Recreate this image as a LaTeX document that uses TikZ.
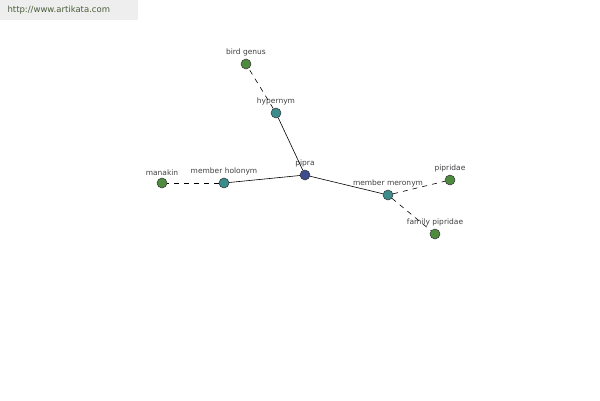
\documentclass[tikz,border=0pt]{standalone}
\usepackage{fontspec}
\setmainfont{DejaVu Sans}
\usetikzlibrary{positioning}

\definecolor{leafgreen}{HTML}{4E8B3E}
\definecolor{relteal}{HTML}{3C8C8C}
\definecolor{rootblue}{HTML}{3D4C8C}
\definecolor{bannergray}{HTML}{EEEEEE}
\definecolor{bannertext}{HTML}{4A5E3A}

\begin{document}
\begin{tikzpicture}[
		x=1pt, y=-1pt,
		% node looks
		dot/.style={circle, draw=black!80, line width=0.5pt, minimum size=10pt, inner sep=0pt},
		word/.style={dot, fill=leafgreen},
		relation/.style={dot, fill=relteal},
		root/.style={dot, fill=rootblue},
		tag/.style={font=\fontsize{7.5}{9}\selectfont, text=black!75, inner sep=1pt},
		link/.style={line width=0.6pt, black},
		weak/.style={link, dashed, dash pattern=on 5pt off 5pt}
		]
		
		\useasboundingbox (0,0) rectangle (600,400);
		
		% ==========================================
		% banner
		% ==========================================
		\fill[bannergray] (0,0) rectangle (138,20);
		\node[font=\fontsize{8.5}{10}\selectfont, text=bannertext, anchor=west] (site) at (4,10) {http://www.artikata.com};
		
		% ==========================================
		% nodes
		% ==========================================
		\node[root] (pipra) at (305,175) {};
		\node[tag, above=1pt of pipra] {pipra};
		
		\node[relation] (hyper) at (276,113) {};
		\node[tag, above=1pt of hyper] {hypernym};
		
		\node[word] (genus) at (246,64) {};
		\node[tag, above=1pt of genus] {bird genus};
		
		\node[relation] (holo) at (224,183) {};
		\node[tag, above=1pt of holo] {member holonym};
		
		\node[word] (manakin) at (162,183) {};
		\node[tag, above=1pt of manakin] {manakin};
		
		\node[relation] (mero) at (388,195) {};
		\node[tag, above=1pt of mero] {member meronym};
		
		\node[word] (pipridae) at (450,180) {};
		\node[tag, above=1pt of pipridae] {pipridae};
		
		\node[word] (family) at (435,234) {};
		\node[tag, above=1pt of family] {family pipridae};
		
		% ==========================================
		% connectors
		% ==========================================
		\draw[link] (pipra) -- (hyper);
		\draw[link] (pipra) -- (holo);
		\draw[link] (pipra) -- (mero);
		\draw[weak] (hyper) -- (genus);
		\draw[weak] (holo) -- (manakin);
		\draw[weak] (mero) -- (pipridae);
		\draw[weak] (mero) -- (family);
		
	\end{tikzpicture}
\end{document}
